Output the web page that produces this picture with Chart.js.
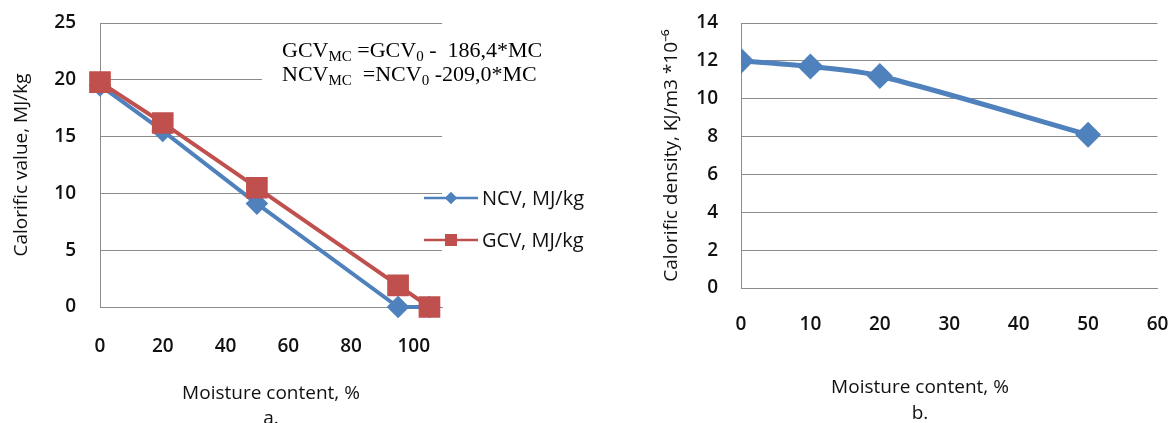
<!DOCTYPE html>
<html>
<head>
<meta charset="utf-8">
<script src="https://cdn.jsdelivr.net/npm/chart.js@4/dist/chart.umd.min.js"></script>
<style>
  html, body { margin: 0; padding: 0; background: #fff; overflow: hidden; }
  canvas { position: absolute; top: 0; }
  #chartA { left: 0; }
  #chartB { left: 600px; }
</style>
</head>
<body>
<canvas id="chartA" width="600" height="440"></canvas>
<canvas id="chartB" width="572" height="440"></canvas>
<script>
// a. calorific value vs moisture content
const moistureA = [0, 20, 50, 95, 105];
const ncv = [19.5, 15.5, 9.1, 0, 0];
const gcv = [19.8, 16.2, 10.5, 1.9, 0];
const ticksA = [0, 20, 40, 60, 80, 100];

// b. calorific density vs moisture content
const moistureB = [0, 10, 20, 50];
const density = [12.0, 11.7, 11.2, 8.1];

const BLUE = '#4F81BD';
const RED = '#C0504D';
const GRID = '#8c8c8c';
const FONT = "'Open Sans', sans-serif";

Chart.defaults.font.family = FONT;
Chart.defaults.color = '#111';

const tickFont = { family: FONT, size: 19, weight: '600' };
const titleFont = { family: FONT, size: 19, lineHeight: 25 / 19 };

function pts(xs, ys) {
  return xs.map((x, i) => ({ x, y: ys[i] }));
}

// tick labels are pushed off the axis with invisible tick marks,
// tick padding would also pad the chart area
function xGrid(len) {
  return { color: 'transparent', drawOnChartArea: false, drawTicks: true, tickLength: len, tickColor: 'transparent' };
}
function yGrid(len) {
  return { color: GRID, drawTicks: true, tickLength: len, tickColor: 'transparent' };
}

// equation box + legend for chart a
const extrasA = {
  id: 'extrasA',
  beforeDatasetsDraw(chart) {
    const ctx = chart.ctx;
    ctx.save();
    ctx.fillStyle = '#fff';
    ctx.fillRect(262, 32, 182, 68);
    ctx.fillStyle = '#000';
    ctx.textBaseline = 'alphabetic';
    const big = "22px 'Liberation Serif', serif";
    const small = "15px 'Liberation Serif', serif";
    const lines = [
      { y: 57, parts: [['GCV', 0], ['MC', 1], [' =GCV', 0], ['0', 1], [' -  186,4*MC', 0]] },
      { y: 81, parts: [['NCV', 0], ['MC', 1], ['  =NCV', 0], ['0', 1], [' -209,0*MC', 0]] }
    ];
    lines.forEach(line => {
      let x = 282;
      line.parts.forEach(([t, sub]) => {
        ctx.font = sub ? small : big;
        ctx.fillText(t, x, line.y + (sub ? 4 : 0));
        x += ctx.measureText(t).width;
      });
    });
    ctx.restore();
  },
  afterDraw(chart) {
    const ctx = chart.ctx;
    ctx.save();
    const items = [
      { label: 'NCV, MJ/kg', color: BLUE, style: 'rectRot', r: 6, y: 198 },
      { label: 'GCV, MJ/kg', color: RED, style: 'rect', r: 8.5, y: 240 }
    ];
    items.forEach(it => {
      ctx.strokeStyle = it.color;
      ctx.lineWidth = 2.5;
      ctx.beginPath();
      ctx.moveTo(424, it.y);
      ctx.lineTo(478, it.y);
      ctx.stroke();
      ctx.fillStyle = it.color;
      Chart.helpers.drawPoint(ctx, { pointStyle: it.style, radius: it.r, borderWidth: 0 }, 451, it.y);
      ctx.fill();
      ctx.fillStyle = '#111';
      ctx.font = "20px " + FONT;
      ctx.textBaseline = 'middle';
      ctx.fillText(it.label, 482, it.y + 1);
    });
    ctx.restore();
  }
};

new Chart(document.getElementById('chartA'), {
  type: 'line',
  data: {
    datasets: [
      {
        label: 'NCV, MJ/kg',
        data: pts(moistureA, ncv),
        borderColor: BLUE,
        backgroundColor: BLUE,
        borderWidth: 4,
        pointStyle: 'rectRot',
        pointRadius: 8.5,
        clip: false,
        order: 1
      },
      {
        label: 'GCV, MJ/kg',
        data: pts(moistureA, gcv),
        borderColor: RED,
        backgroundColor: RED,
        borderWidth: 4,
        pointStyle: 'rect',
        pointRadius: 12.5,
        clip: false,
        order: 0
      }
    ]
  },
  options: {
    responsive: false,
    animation: false,
    layout: { padding: { left: 0, right: 158, top: 23, bottom: 0 } },
    plugins: { legend: { display: false }, tooltip: { enabled: false } },
    scales: {
      x: {
        type: 'linear',
        min: 0,
        max: 109,
        afterBuildTicks: s => { s.ticks = ticksA.map(v => ({ value: v })); },
        afterFit: s => { s.height = 440 - 307; },
        grid: xGrid(28),
        border: { color: GRID, width: 1 },
        ticks: { font: tickFont, padding: 0, color: '#111' },
        title: {
          display: true,
          text: ['Moisture content, %', 'a.'],
          font: titleFont,
          padding: { top: 0, bottom: 9 }
        }
      },
      y: {
        min: 0,
        max: 25,
        afterFit: s => { s.width = 100; },
        ticks: { stepSize: 5, font: tickFont, padding: 0, color: '#111' },
        grid: yGrid(24),
        border: { color: GRID, width: 1 },
        title: {
          display: true,
          text: 'Calorific value, MJ/kg',
          font: titleFont,
          padding: { top: 9, bottom: 0 }
        }
      }
    }
  },
  plugins: [extrasA]
});

// x-axis caption for chart b sits left of the plot centre in the original
const captionB = {
  id: 'captionB',
  afterDraw(chart) {
    const ctx = chart.ctx;
    ctx.save();
    ctx.fillStyle = '#111';
    ctx.font = "19px " + FONT;
    ctx.textAlign = 'center';
    ctx.textBaseline = 'middle';
    ctx.fillText('Moisture content, %', 320, 388);
    ctx.fillText('b.', 320, 414);
    ctx.restore();
  }
};

new Chart(document.getElementById('chartB'), {
  type: 'line',
  data: {
    datasets: [{
      label: 'Calorific density',
      data: pts(moistureB, density),
      borderColor: BLUE,
      backgroundColor: BLUE,
      borderWidth: 5,
      pointStyle: 'rectRot',
      pointRadius: 9.5,
      tension: 0.3
    }]
  },
  options: {
    responsive: false,
    animation: false,
    layout: { padding: { left: 48, right: 12, top: 23, bottom: 0 } },
    plugins: { legend: { display: false }, tooltip: { enabled: false } },
    scales: {
      x: {
        type: 'linear',
        min: 0,
        max: 60,
        afterFit: s => { s.height = 440 - 288; },
        grid: xGrid(25),
        border: { color: GRID, width: 1 },
        ticks: { stepSize: 10, font: tickFont, padding: 0, color: '#111' }
      },
      y: {
        min: 0,
        max: 14,
        afterFit: s => { s.width = 93; },
        ticks: { stepSize: 2, font: tickFont, padding: 0, color: '#111' },
        grid: yGrid(23),
        border: { color: GRID, width: 1 },
        title: {
          display: true,
          text: 'Calorific density, KJ/m3 *10\u207B\u2076',
          font: titleFont,
          padding: { top: 11, bottom: 0 }
        }
      }
    }
  },
  plugins: [captionB]
});
</script>
</body>
</html>
